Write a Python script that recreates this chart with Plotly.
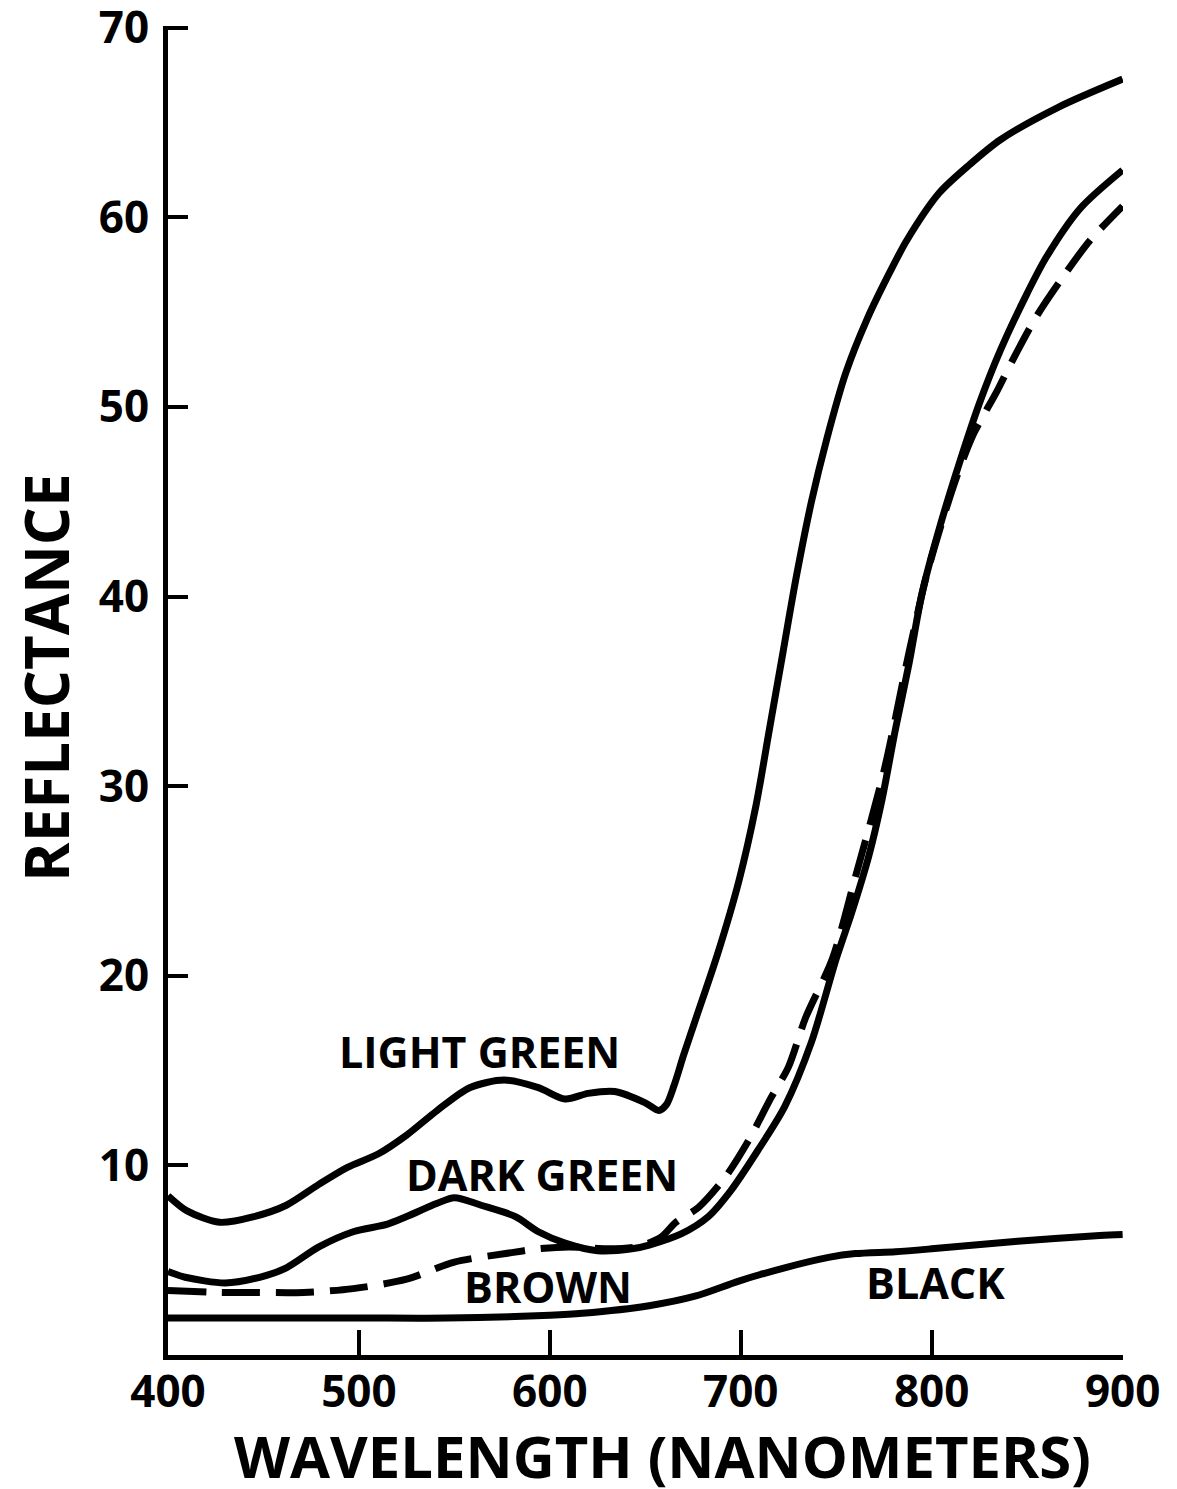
import plotly.graph_objects as go

# ---- data ----
light_green_x = [400, 410, 427, 445, 462, 479, 494, 510, 525, 541, 558, 576, 594, 608, 620, 634, 650, 657, 661, 665,
                 670, 676, 688, 699, 708, 715, 722, 729, 737, 745, 755, 766, 778, 787, 804, 820, 836, 866, 900]
light_green_y = [8.4, 7.6, 7.0, 7.3, 7.9, 9.0, 9.9, 10.6, 11.6, 12.9, 14.1, 14.5, 14.1, 13.5, 13.8, 13.9, 13.3, 12.9, 13.2, 14.2,
                 15.8, 17.6, 21.2, 25.0, 29.0, 33.0, 37.0, 41.0, 45.0, 48.3, 51.8, 54.6, 57.1, 58.8, 61.3, 62.8, 64.1, 65.8, 67.3]

dark_green_x = [400, 409, 430, 448, 462, 479, 497, 515, 525, 541, 550, 564, 582, 594, 608, 625, 643, 652, 669, 683,
                695, 709, 723, 737, 750, 758, 767, 774, 781, 788, 795, 804, 815, 825, 836, 850, 860, 878, 900]
dark_green_y = [4.4, 4.1, 3.8, 4.1, 4.6, 5.7, 6.5, 6.9, 7.3, 8.0, 8.3, 7.9, 7.3, 6.5, 5.9, 5.5, 5.6, 5.8, 6.4, 7.3,
                8.7, 10.8, 13.1, 16.5, 20.9, 23.3, 26.3, 29.3, 33.0, 36.4, 40.2, 43.6, 47.2, 50.2, 53.0, 56.0, 57.9, 60.5, 62.5]

brown_x = [400, 427, 445, 471, 497, 525, 550, 580, 594, 610, 630, 645, 658, 666, 678, 692, 704, 716, 725, 734,
           748, 760, 775, 788, 797, 805, 813, 822, 834, 842, 855, 869, 883, 900]
brown_y = [3.4, 3.3, 3.3, 3.3, 3.5, 4.0, 4.9, 5.4, 5.6, 5.7, 5.6, 5.7, 6.2, 7.0, 7.8, 9.4, 11.3, 13.6, 15.2, 17.8,
           20.9, 25.2, 30.8, 37.0, 41.0, 43.8, 46.3, 48.6, 50.8, 52.4, 54.8, 56.9, 58.8, 60.6]

black_x = [400, 500, 546, 600, 617, 652, 676, 699, 723, 746, 760, 781, 800, 845, 888, 900]
black_y = [1.95, 1.95, 1.95, 2.1, 2.2, 2.6, 3.1, 3.9, 4.6, 5.15, 5.35, 5.45, 5.6, 6.0, 6.3, 6.35]

x_ticks = [400, 500, 600, 700, 800, 900]
y_ticks = [10, 20, 30, 40, 50, 60, 70]

labels = ["LIGHT GREEN", "DARK GREEN", "BROWN", "BLACK"]
label_x = [563, 596, 599, 802]
label_y = [16.0, 9.5, 3.6, 3.8]

FONT = "Open Sans"

fig = go.Figure()
common = dict(mode="lines", showlegend=False, hoverinfo="skip")
spl = dict(color="black", width=7, shape="spline", smoothing=0.8)
fig.add_trace(go.Scatter(x=light_green_x, y=light_green_y, line=spl, **common))
fig.add_trace(go.Scatter(x=dark_green_x, y=dark_green_y, line=spl, **common))
fig.add_trace(go.Scatter(x=brown_x, y=brown_y, line=dict(spl, dash="38px,16px"), **common))
fig.add_trace(go.Scatter(x=black_x, y=black_y, line=spl, **common))

for t, lx, ly in zip(labels, label_x, label_y):
    fig.add_annotation(x=lx, y=ly, text=t, showarrow=False, xref="x", yref="y",
                       font=dict(family=FONT, size=43, color="black", weight="bold"))

# axis titles
fig.add_annotation(text="WAVELENGTH (NANOMETERS)", xref="paper", yref="paper", x=0.518, y=-0.0755,
                   xanchor="center", yanchor="middle",
                   showarrow=False, font=dict(family=FONT, size=58, color="black", weight="bold"))
fig.add_annotation(text="REFLECTANCE", xref="paper", yref="paper", x=-0.128, y=0.51, textangle=-90,
                   xanchor="center", yanchor="middle",
                   showarrow=False, font=dict(family=FONT, size=60, color="black", weight="bold"))

fig.update_xaxes(range=[400, 900.2], tickvals=x_ticks, ticktext=[str(v) for v in x_ticks],
                 ticks="inside", ticklen=25, tickwidth=4, tickcolor="black",
                 showline=True, linewidth=5, linecolor="black", showgrid=False, zeroline=False,
                 tickfont=dict(family=FONT, size=44, color="black", weight="bold"),
                 ticklabelstandoff=-6, ticklabeloverflow="allow", automargin=False)
fig.update_yaxes(range=[0, 70.1], tickvals=y_ticks, ticktext=[str(v) for v in y_ticks],
                 ticks="inside", ticklen=20, tickwidth=4, tickcolor="black",
                 showline=True, linewidth=5, linecolor="black", showgrid=False, zeroline=False,
                 tickfont=dict(family=FONT, size=44, color="black", weight="bold"),
                 ticklabelstandoff=5, ticklabeloverflow="allow", automargin=False)

fig.update_layout(width=1177, height=1489, margin=dict(l=160, r=62, t=18, b=142),
                  plot_bgcolor="white", paper_bgcolor="white")

fig.write_html("out.html")
